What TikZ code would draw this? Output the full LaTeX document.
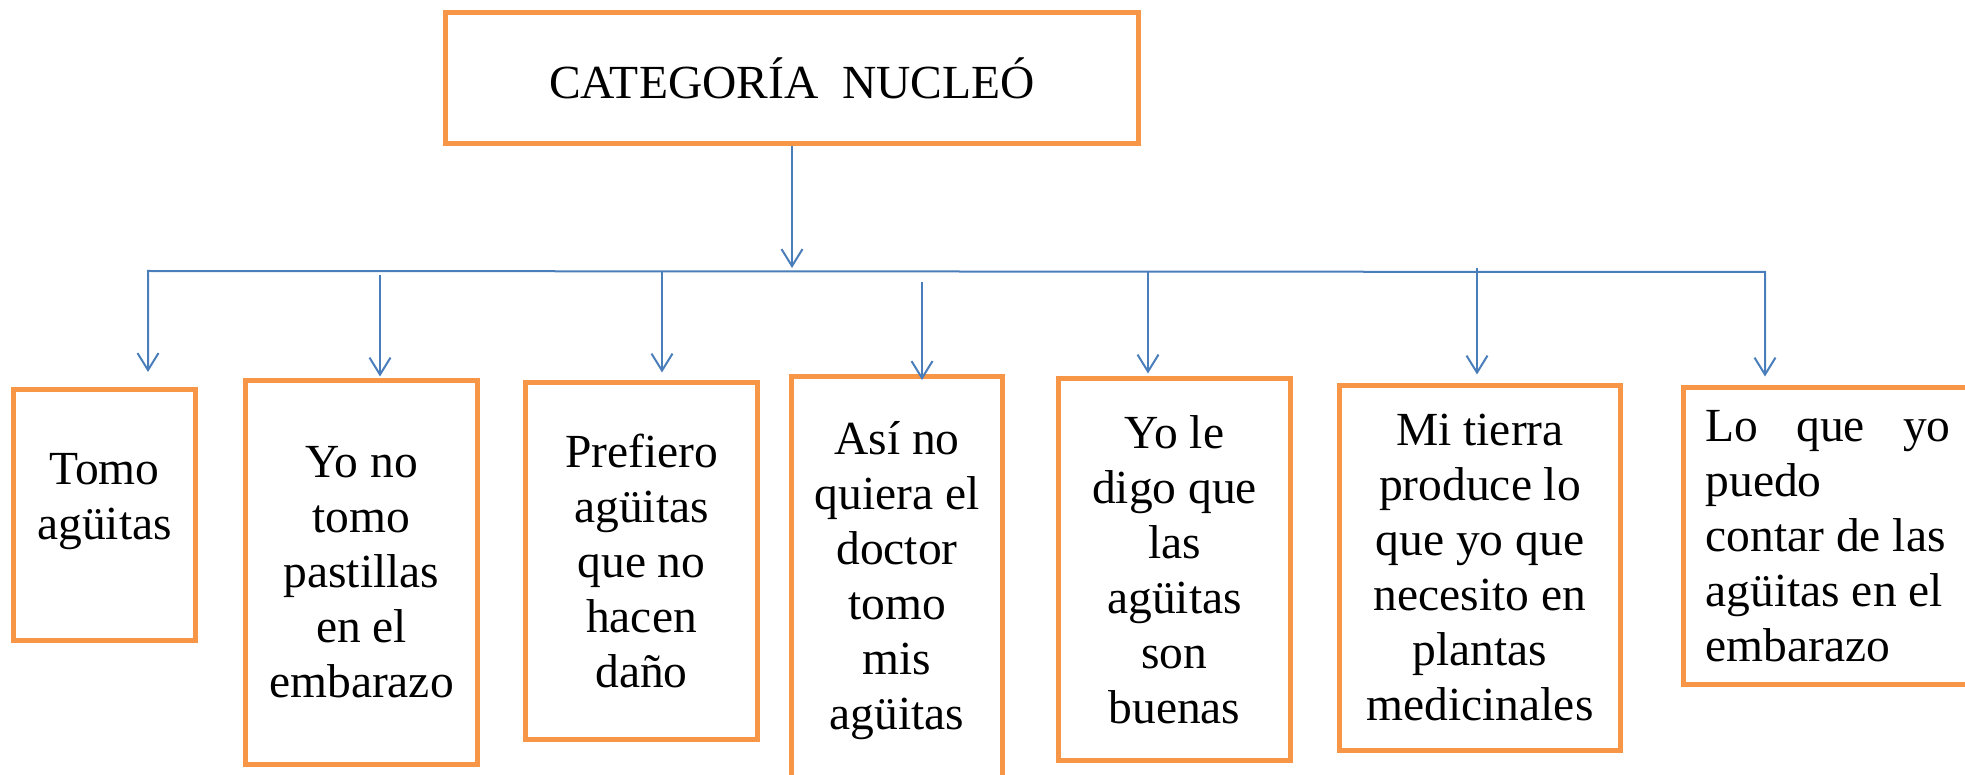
\documentclass[tikz,border=0pt]{standalone}
\usepackage{fontspec}
\setmainfont{Liberation Serif}
\usetikzlibrary{arrows.meta,calc}
\definecolor{boxorange}{HTML}{F79646}
\definecolor{linkblue}{HTML}{4A7EBB}
\begin{document}
\begin{tikzpicture}[x=1pt,y=-1pt,
  box/.style={draw=boxorange, line width=5pt, inner sep=0pt, align=center,
    font=\fontsize{47.5}{55}\selectfont},
  txt/.style={inner sep=0pt, align=center, font=\fontsize{47.5}{55}\selectfont},
  link/.style={draw=linkblue, line width=2pt},
  arr/.style={link, -{Straight Barb[length=17pt,width=21pt]}},
  twoarr/.style={link, {Straight Barb[length=17pt,width=21pt]}-{Straight Barb[length=17pt,width=21pt]}}]
\useasboundingbox (0,0) rectangle (1965,775);
\clip (0,0) rectangle (1965,775);

\node[box, minimum width=693pt, minimum height=131pt] (top) at (792,78) {CATEGORÍA~~NUCLEÓ};

\node[box, minimum width=182pt, minimum height=251pt] (b1) at (104.5,515) {};
\node[txt] (t1) at ([yshift=13pt]b1.center) {Tomo\\agüitas};
\node[box, minimum width=232pt, minimum height=384pt] (b2) at (361.5,572.5) {Yo no\\tomo\\pastillas\\en el\\embarazo};
\node[box, minimum width=232pt, minimum height=357pt] (b3) at (641.5,561) {Prefiero\\agüitas\\que no\\hacen\\daño};
\node[box, minimum width=211pt, minimum height=408pt] (b4) at (897,581) {Así no\\quiera el\\doctor\\tomo\\mis\\agüitas};
\node[box, minimum width=232pt, minimum height=382pt] (b5) at (1174.5,569.5) {Yo le\\digo que\\las\\agüitas\\son\\buenas};
\node[box, minimum width=281pt, minimum height=365pt] (b6) at (1480,568) {Mi tierra\\produce lo\\que yo que\\necesito en\\plantas\\medicinales};
\node[box, minimum width=289pt, minimum height=297pt, align=left] (b7) at (1828,536)
  {\makebox[245pt][s]{Lo\hfill que\hfill yo}\\puedo\\contar de las\\agüitas en el\\embarazo};

\coordinate (hub) at (792,268);
\coordinate (jl) at (148,271);
\coordinate (jr) at (1765,272);
\coordinate (s2) at (380,275);
\coordinate (s3) at (662,271);
\coordinate (s4) at (922,282);
\coordinate (s5) at (1148,271);
\coordinate (s6) at (1477,268);

\draw[arr] (top.south) -- (hub);
\draw[twoarr] ($(b1.north -| jl)+(0,-15)$) -- (jl) -- (jr) -- ($(b7.north -| jr)+(0,-8.5)$);
\draw[arr] (s2) -- ($(b2.north -| s2)+(0,-1.5)$);
\draw[arr] (s3) -- ($(b3.north -| s3)+(0,-7.5)$);
\draw[arr] (s4) -- ($(b4.north -| s4)+(0,5.5)$);
\draw[arr] (s5) -- ($(b5.north -| s5)+(0,-2.5)$);
\draw[arr] (s6) -- ($(b6.north -| s6)+(0,-8.5)$);
\end{tikzpicture}
\end{document}
